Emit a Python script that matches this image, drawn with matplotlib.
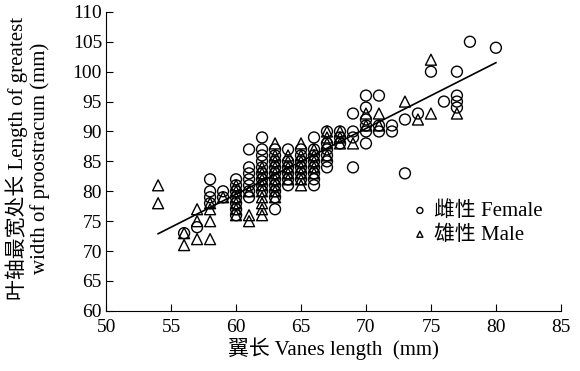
import matplotlib.pyplot as plt
import numpy as np

plt.rcParams['font.family'] = ['Liberation Serif', 'Noto Sans CJK SC']
plt.rcParams['font.size'] = 14

# female (circles): wing length -> values at that length
female = {
    56: [73], 57: [74], 58: [82, 80, 79, 78], 59: [80, 79],
    60: [82, 81, 80, 79, 78, 77, 76],
    61: [87, 84, 83, 82, 81, 80, 79],
    62: [89, 87, 86, 85, 84, 83, 82, 81, 80],
    63: [87, 86, 85, 84, 83, 82, 81, 80, 79, 77],
    64: [87, 85, 84, 83, 82, 81],
    65: [87, 86, 85, 84, 83, 82],
    66: [89, 87, 86, 85, 84, 83, 82, 81],
    67: [90, 88, 87, 86, 85, 84],
    68: [90, 89, 88], 69: [93, 90, 89, 84],
    70: [96, 94, 92, 91, 90, 88], 71: [96, 91, 90], 72: [91, 90],
    73: [92, 83], 74: [93], 75: [100], 76: [95],
    77: [100, 96, 95, 94], 78: [105], 80: [104],
}
# male (triangles)
male = {
    54: [81, 78], 56: [73, 71], 57: [77, 75, 72], 58: [78, 77, 75, 72],
    59: [79], 60: [81, 80, 79, 78, 77, 76], 61: [80, 76, 75],
    62: [84, 83, 82, 81, 80, 79, 78, 77, 76],
    63: [88, 86, 85, 84, 83, 82, 81, 80, 79],
    64: [86, 85, 84, 83, 82],
    65: [88, 86, 85, 84, 83, 82, 81],
    66: [87, 86, 85, 84, 83],
    67: [90, 89, 88, 86], 68: [90, 89, 88], 69: [88],
    70: [93, 91], 71: [93, 91], 73: [95], 74: [92],
    75: [102, 93], 77: [93],
}
# fitted line
fit_x = [54, 80]
slope, intercept = 1.1, 13.5

fx = [k for k, v in female.items() for _ in v]
fy = [y for v in female.values() for y in v]
mx = [k for k, v in male.items() for _ in v]
my = [y for v in male.values() for y in v]

fig = plt.figure(figsize=(5.8, 3.71), dpi=100)
ax = fig.add_axes([0.183, 0.162, 0.784, 0.806])

ax.scatter(fx, fy, marker='o', s=62, facecolors='none', edgecolors='black',
           linewidths=1.0, label='雌性 Female')
ax.scatter(mx, my, marker='^', s=62, facecolors='none', edgecolors='black',
           linewidths=1.0, label='雄性 Male')
lx = np.array(fit_x)
ax.plot(lx, slope * lx + intercept, color='black', lw=1.2)

ax.set_xlim(50, 85)
ax.set_ylim(60, 110)
ax.set_xticks(range(50, 86, 5))
ax.set_yticks(range(60, 111, 5))
ax.spines['top'].set_visible(False)
ax.spines['right'].set_visible(False)
ax.tick_params(direction='in', length=5, labelsize=14)
ax.tick_params(axis='x', pad=6)
ax.tick_params(axis='y', pad=3)

ax.set_xlabel('翼长 Vanes length  (mm)', fontsize=15, labelpad=1)
ax.set_ylabel('叶轴最宽处长 Length of greatest\nwidth of proostracum (mm)',
              fontsize=15, linespacing=1.15)
ax.yaxis.set_label_coords(-0.123, 0.51)

ax.legend(loc='upper left', bbox_to_anchor=(0.635, 0.43), frameon=False,
          markerscale=0.55, handlelength=0.6, handletextpad=0.4,
          labelspacing=0.2, fontsize=15)

fig.savefig('out.png', dpi=100)
